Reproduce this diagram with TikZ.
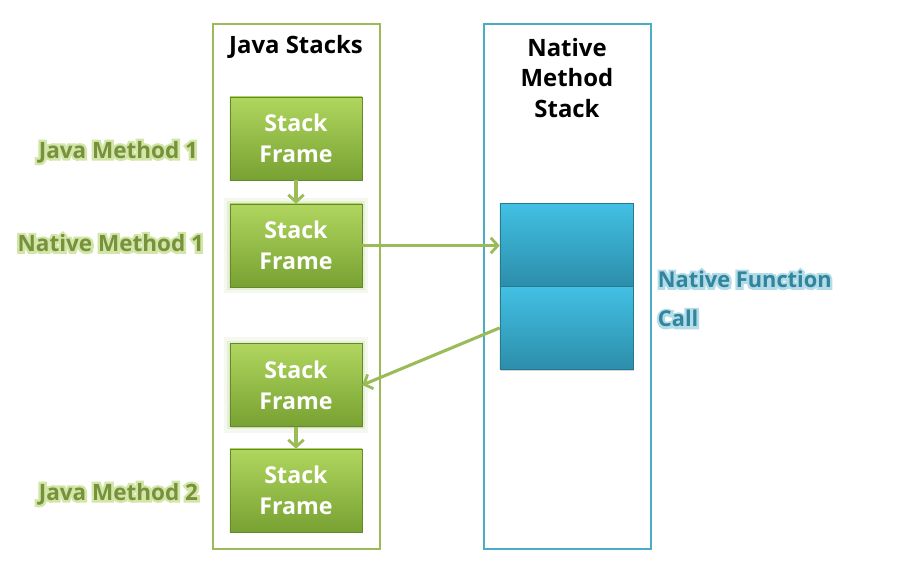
\documentclass[tikz,border=0pt]{standalone}
\usepackage{fontspec}
\setmainfont{Open Sans}
\newfontfamily\glowfont{Open Sans}[BoldFeatures={FakeBold=22}]
\usetikzlibrary{arrows.meta,positioning,shadows}

\definecolor{colorJava}{HTML}{9BBB59}
\definecolor{colorJavaTop}{HTML}{B0D65E}
\definecolor{colorJavaBottom}{HTML}{77A132}
\definecolor{colorNative}{HTML}{4BACC6}
\definecolor{colorNativeTop}{HTML}{42C0E4}
\definecolor{colorNativeBottom}{HTML}{2C8EAA}
\definecolor{colorLabelGreen}{HTML}{76923C}
\definecolor{colorGlowGreen}{HTML}{D3E6A8}
\definecolor{colorLabelBlue}{HTML}{31859C}
\definecolor{colorGlowBlue}{HTML}{B3DCE8}

% text with a soft halo behind it
\newcommand{\glowtext}[2]{\rlap{\glowfont\bfseries\color{#1}#2}#2}

\tikzset{
    stackbox/.style={draw, line width=1.6pt, minimum width=4.175cm, minimum height=13.125cm, inner sep=0pt},
    frame/.style={rectangle, minimum width=3.3cm, minimum height=2.075cm, inner sep=0pt,
        top color=colorJavaTop, bottom color=colorJavaBottom, draw=colorJavaBottom!85!black,
        line width=0.4pt, text=white, align=center, font=\bfseries\fontsize{16.5pt}{22pt}\selectfont,
        drop shadow={opacity=0.35, shadow xshift=0.7pt, shadow yshift=-0.9pt}},
    halo/.style={preaction={draw=colorJava!40, line width=9pt, opacity=0.25},
        preaction={draw=colorJava!50, line width=4pt, opacity=0.35}},
    cell/.style={rectangle, minimum width=3.325cm, minimum height=2.07cm, inner sep=0pt,
        top color=colorNativeTop, bottom color=colorNativeBottom, draw=colorNativeBottom!85!black,
        line width=0.4pt,
        drop shadow={opacity=0.35, shadow xshift=0.7pt, shadow yshift=-0.9pt}},
    title/.style={align=center, font=\bfseries\fontsize{17pt}{22pt}\selectfont},
    greenlabel/.style={text=colorLabelGreen, font=\bfseries\fontsize{16pt}{18pt}\selectfont},
    bluelabel/.style={text=colorLabelBlue, align=left, font=\bfseries\fontsize{15.5pt}{28pt}\selectfont},
    link/.style={line width=2.2pt, color=colorJava, -{Straight Barb[length=5pt, width=11pt, line width=2pt]}}
}

\begin{document}
\begin{tikzpicture}[x=0.025cm, y=-0.025cm]

    \useasboundingbox (0,0) rectangle (906,566);

    % the two stacks
    \node[stackbox, draw=colorJava] (javaStacks) at (296.5,286.5) {};
    \node[stackbox, draw=colorNative] (nativeStack) at (567.5,286.5) {};

    \node[title] (javaTitle) at (296,47) {Java Stacks};
    \node[title] (nativeTitle) at (567,78) {Native\\Method\\Stack};

    % stack frames
    \node[frame] (f1) at (296,138.5) {Stack\\Frame};
    \node[frame, halo] (f2) at (296,245.5) {Stack\\Frame};
    \node[frame, halo] (f3) at (296,385) {Stack\\Frame};
    \node[frame] (f4) at (296,490.5) {Stack\\Frame};

    % native cells
    \node[cell] (n1) at (566.5,244.5) {};
    \node[cell, below=0pt of n1] (n2) {};

    % labels
    \node[greenlabel, anchor=east] (lJava1) at (203,152) {\glowtext{colorGlowGreen}{Java Method 1}};
    \node[greenlabel, anchor=east] (lNative1) at (209,243) {\glowtext{colorGlowGreen}{Native Method 1}};
    \node[greenlabel, anchor=east] (lJava2) at (203,494) {\glowtext{colorGlowGreen}{Java Method 2}};
    \node[bluelabel, anchor=west] (lCall) at (653,299) {\glowtext{colorGlowBlue}{Native Function}\\\glowtext{colorGlowBlue}{Call}};

    % calls
    \draw[link] (f1) -- (f2);
    \draw[link] (f2.east) -- (f2.east -| n1.west);
    \draw[link] (n2.west) -- (f3.east);
    \draw[link] (f3) -- (f4);

\end{tikzpicture}
\end{document}
